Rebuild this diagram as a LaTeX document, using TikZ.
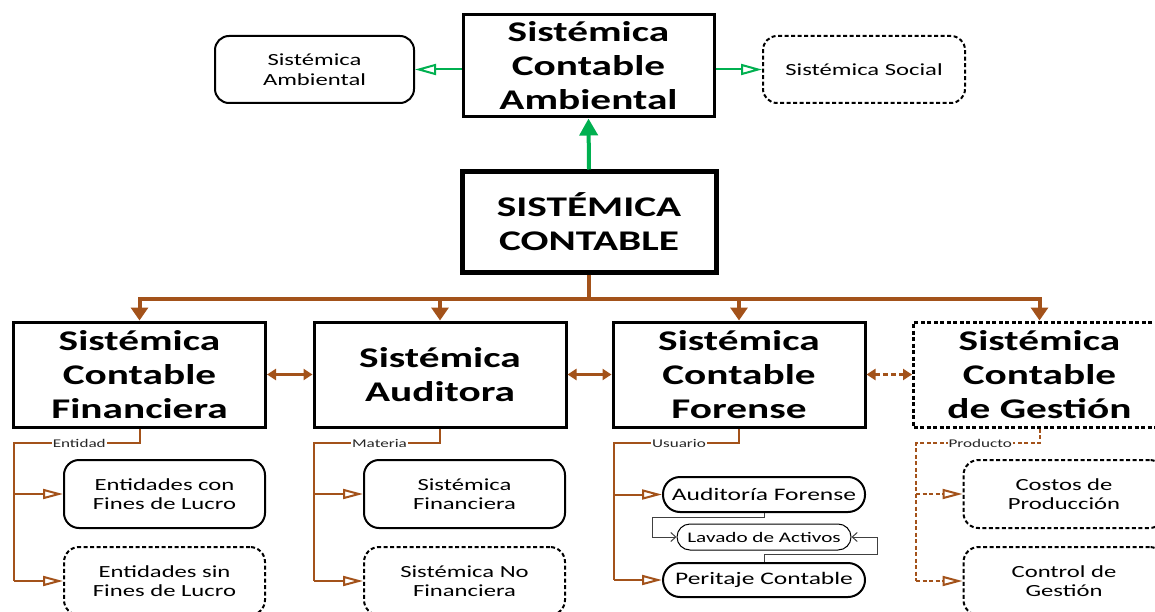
\documentclass[tikz,border=0pt]{standalone}
\usepackage{fontspec}
\setmainfont{Carlito}[FakeStretch=1.45]
\usetikzlibrary{arrows.meta}
\definecolor{brn}{HTML}{A3521A}
\definecolor{grn}{HTML}{00B050}
\definecolor{lnk}{HTML}{404040}
\tikzset{
  box/.style={draw=black, fill=white, inner sep=0pt, align=center},
  bigtxt/.style={font=\fontsize{28.5}{34}\selectfont\bfseries},
  smalltxt/.style={font=\fontsize{17}{19.5}\selectfont},
  headbox/.style={box, bigtxt, line width=3pt, minimum width=252pt, minimum height=105pt},
  subbox/.style={box, smalltxt, line width=2pt, rounded corners=15pt, minimum width=201pt, minimum height=68pt},
  dashbox/.style={dash pattern=on 4pt off 2.5pt},
  pillbox/.style={box, line width=2pt, rounded corners=17pt, minimum width=202pt, minimum height=35pt, font=\fontsize{17.6}{19.5}\selectfont},
  greenopen/.style={draw=grn, line width=2pt, -{Triangle[open, length=21pt, width=11pt]}},
  greenbold/.style={draw=grn, line width=4pt, -{Triangle[length=17pt, width=18pt]}},
  busline/.style={draw=brn, line width=4pt, line join=miter},
  busarrow/.style={busline, -{Triangle[length=13pt, width=17pt]}},
  twoway/.style={draw=brn, line width=2.5pt, {Triangle[length=9pt, width=11pt]}-{Triangle[length=9pt, width=11pt]}},
  subline/.style={draw=brn, line width=2pt},
  subarrow/.style={subline, -{Triangle[open, length=20pt, width=10pt]}},
  tag/.style={fill=white, inner sep=1pt, text=black!85, font=\fontsize{11.8}{12}\selectfont},
  linkline/.style={draw=lnk, line width=1pt, -{Straight Barb[length=5pt, width=9pt]}},
}
\begin{document}
\begin{tikzpicture}[x=1pt, y=-1pt]
\useasboundingbox (0,0) rectangle (1155,612);
\clip (0,0) rectangle (1155,612);

% upper level
\node[headbox, minimum width=251pt, minimum height=102pt] (amb) at (588.5,66) {Sistémica\\Contable\\Ambiental};
\node[box, smalltxt, line width=2pt, rounded corners=14pt, minimum width=199pt, minimum height=67pt] (samb) at (314.5,69.5) {Sistémica\\Ambiental};
\node[box, smalltxt, dashbox, line width=2pt, rounded corners=14pt, minimum width=202pt, minimum height=67pt] (ssoc) at (864,69.5) {Sistémica Social};

\draw[greenopen] (amb.west |- samb.east) -- (samb.east);
\draw[greenopen] (amb.east |- ssoc.west) -- (ssoc.west);

% central node
\node[box, bigtxt, line width=5pt, minimum width=254pt, minimum height=100pt] (main) at (589,222) {SISTÉMICA\\CONTABLE};
\draw[greenbold] (main.north) -- (amb.south);

% second level
\node[headbox] (fin) at (139.5,374.5) {Sistémica\\Contable\\Financiera};
\node[headbox] (aud) at (440,374.5) {Sistémica\\Auditora};
\node[headbox] (for) at (739,374.5) {Sistémica\\Contable\\Forense};
\node[headbox, dashbox] (ges) at (1039.5,374.5) {Sistémica\\Contable\\de Gestión};

\coordinate (bus) at (589,299);
\draw[busline] (main.south) -- (bus);
\draw[busarrow] (bus) -| (fin.north);
\draw[busarrow] (bus) -| (aud.north);
\draw[busarrow] (bus) -| (for.north);
\draw[busarrow] (bus) -| (ges.north);

\draw[twoway] (fin.east) -- (aud.west);
\draw[twoway] (aud.east) -- (for.west);
\draw[twoway, dash pattern=on 5pt off 3pt] (for.east) -- (ges.west);

% branches under each system
\node[subbox] (e1) at (164.5,494) {Entidades con\\Fines de Lucro};
\node[subbox, dashbox] (e2) at (164.5,581) {Entidades sin\\Fines de Lucro};
\coordinate (fk) at (14,443);
\draw[subline] (fin.south) |- node[tag, pos=0.74] {Entidad} (fk) -- (fk |- e2.west);
\draw[subarrow] (fk |- e1.west) -- (e1.west);
\draw[subarrow] (fk |- e2.west) -- (e2.west);

\node[subbox] (m1) at (464.5,494) {Sistémica\\Financiera};
\node[subbox, dashbox] (m2) at (464.5,581) {Sistémica No\\Financiera};
\coordinate (ak) at (314,443);
\draw[subline] (aud.south) |- node[tag, pos=0.74] {Materia} (ak) -- (ak |- m2.west);
\draw[subarrow] (ak |- m1.west) -- (m1.west);
\draw[subarrow] (ak |- m2.west) -- (m2.west);

\node[pillbox] (af) at (764,494.5) {Auditoría Forense};
\node[pillbox, minimum height=34pt] (pc) at (764,580) {Peritaje Contable};
\node[box, line width=1pt, rounded corners=13pt, minimum width=174pt, minimum height=26pt, font=\fontsize{14.6}{16}\selectfont] (lav) at (764,537) {Lavado de Activos};
\coordinate (rk) at (614,443);
\draw[subline] (for.south) |- node[tag, pos=0.74] {Usuario} (rk) -- (rk |- pc.west);
\draw[subarrow] (rk |- af.west) -- (af.west);
\draw[subarrow] (rk |- pc.west) -- (pc.west);
\coordinate (l1) at (652,517);
\coordinate (l2) at (877,554);
\draw[linkline] (af.south) |- (l1) |- (lav.west);
\draw[linkline] (pc.north) |- (l2) |- (lav.east);

\node[subbox, dashbox] (g1) at (1064,494) {Costos de\\Producción};
\node[subbox, dashbox] (g2) at (1064,581) {Control de\\Gestión};
\coordinate (gk) at (916,443);
\draw[subline, dash pattern=on 4pt off 2.5pt] (ges.south) |- node[tag, pos=0.74] {Producto} (gk) -- (gk |- g2.west);
\draw[subarrow, dash pattern=on 4pt off 2.5pt] (gk |- g1.west) -- (g1.west);
\draw[subarrow, dash pattern=on 4pt off 2.5pt] (gk |- g2.west) -- (g2.west);
\end{tikzpicture}
\end{document}
